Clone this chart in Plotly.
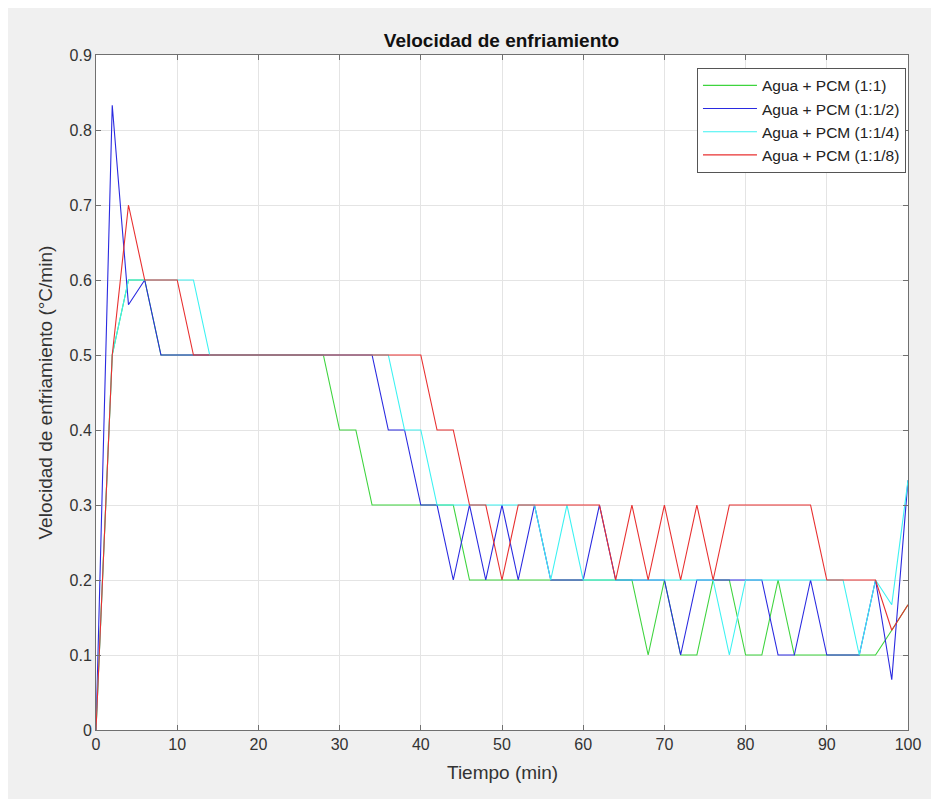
import plotly.graph_objects as go

tiempo = [0, 2, 4, 6, 8, 10, 12, 14, 16, 18, 20, 22, 24, 26, 28, 30, 32, 34, 36, 38, 40,
          42, 44, 46, 48, 50, 52, 54, 56, 58, 60, 62, 64, 66, 68, 70, 72, 74, 76, 78, 80,
          82, 84, 86, 88, 90, 92, 94, 96, 98, 100]

pcm_1_1 = [0, 0.5, 0.6, 0.6, 0.5,
           0.5, 0.5, 0.5, 0.5, 0.5, 0.5, 0.5, 0.5, 0.5, 0.5,
           0.4, 0.4, 0.3, 0.3, 0.3, 0.3, 0.3, 0.3,
           0.2, 0.2, 0.2, 0.2, 0.2, 0.2, 0.2, 0.2, 0.2, 0.2, 0.2,
           0.1, 0.2, 0.1, 0.1, 0.2, 0.2, 0.1, 0.1, 0.2,
           0.1, 0.1, 0.1, 0.1, 0.1, 0.1, 0.133, 0.167]

pcm_1_2 = [0, 0.833, 0.567, 0.6, 0.5,
           0.5, 0.5, 0.5, 0.5, 0.5, 0.5, 0.5, 0.5, 0.5, 0.5, 0.5, 0.5, 0.5,
           0.4, 0.4, 0.3, 0.3,
           0.2, 0.3, 0.2, 0.3, 0.2, 0.3,
           0.2, 0.2, 0.2, 0.3, 0.2, 0.2, 0.2, 0.2,
           0.1, 0.2, 0.2, 0.2, 0.2, 0.2,
           0.1, 0.1, 0.2, 0.1, 0.1, 0.1, 0.2, 0.067, 0.333]

pcm_1_4 = [0, 0.5, 0.6, 0.6, 0.6, 0.6, 0.6,
           0.5, 0.5, 0.5, 0.5, 0.5, 0.5, 0.5, 0.5, 0.5, 0.5, 0.5, 0.5,
           0.4, 0.4,
           0.3, 0.3, 0.3, 0.3, 0.3, 0.3, 0.3,
           0.2, 0.3, 0.2,
           0.2, 0.2, 0.2, 0.2, 0.2, 0.2, 0.2, 0.2,
           0.1,
           0.2, 0.2, 0.2, 0.2, 0.2, 0.2, 0.2,
           0.1, 0.2, 0.167, 0.333]

pcm_1_8 = [0, 0.5, 0.7, 0.6, 0.6, 0.6, 0.5,
           0.5, 0.5, 0.5, 0.5, 0.5, 0.5, 0.5, 0.5, 0.5, 0.5, 0.5, 0.5, 0.5, 0.5,
           0.4, 0.4, 0.3, 0.3, 0.2,
           0.3, 0.3, 0.3, 0.3, 0.3, 0.3,
           0.2, 0.3, 0.2, 0.3, 0.2, 0.3, 0.2,
           0.3, 0.3, 0.3, 0.3, 0.3, 0.3,
           0.2, 0.2, 0.2, 0.2,
           0.133, 0.167]

nombres = ["Agua + PCM (1:1)", "Agua + PCM (1:1/2)", "Agua + PCM (1:1/4)", "Agua + PCM (1:1/8)"]
colores = ["#3ed43e", "#2a2ae0", "#3cf2f2", "#e83030"]

x_ticks = [0, 10, 20, 30, 40, 50, 60, 70, 80, 90, 100]
y_ticks = [0, 0.1, 0.2, 0.3, 0.4, 0.5, 0.6, 0.7, 0.8, 0.9]
y_ticktext = ["0", "0.1", "0.2", "0.3", "0.4", "0.5", "0.6", "0.7", "0.8", "0.9"]

fig = go.Figure()
for serie, nombre, color in zip([pcm_1_1, pcm_1_2, pcm_1_4, pcm_1_8], nombres, colores):
    fig.add_trace(go.Scatter(x=tiempo, y=serie, mode="lines", name=nombre,
                             line=dict(color=color, width=1.1)))

fuente = "Liberation Sans, Arial, sans-serif"
eje = dict(showline=True, mirror="ticks", linecolor="#707070", linewidth=1,
           ticks="inside", ticklen=5, tickcolor="#707070",
           showgrid=True, gridcolor="#e4e4e4", gridwidth=1, zeroline=False,
           tickfont=dict(family=fuente, size=16, color="#333333"))

fig.update_layout(
    width=931, height=791,
    margin=dict(l=88, r=31, t=47, b=69),
    paper_bgcolor="#f0f0f0", plot_bgcolor="#ffffff",
    font=dict(family=fuente, color="#222222"),
    title=dict(text="<b>Velocidad de enfriamiento</b>", x=(501.5 - 8) / 931, xanchor="center",
               y=1 - 32 / 791, yanchor="middle", yref="container",
               font=dict(size=19, color="#111111")),
    xaxis=dict(range=[0, 100], tickvals=x_ticks, **eje),
    yaxis=dict(range=[0, 0.9], tickvals=y_ticks, ticktext=y_ticktext, **eje),
    showlegend=True,
    legend=dict(x=0.9975, xanchor="right", y=0.981, yanchor="top",
                bgcolor="#ffffff", bordercolor="#555555", borderwidth=1,
                font=dict(family=fuente, size=15.5, color="#222222"),
                tracegroupgap=0, itemwidth=54),
    annotations=[
        dict(text="Tiempo (min)", xref="paper", yref="paper", x=0.5, y=-43 / 675,
             xanchor="center", yanchor="middle", showarrow=False,
             font=dict(family=fuente, size=19, color="#333333")),
        dict(text="Velocidad de enfriamiento (°C/min)", xref="paper", yref="paper",
             x=(45 - 96) / 812, y=0.5, xanchor="center", yanchor="middle",
             textangle=-90, showarrow=False,
             font=dict(family=fuente, size=19, color="#333333")),
    ],
)

fig.write_html("out.html")
